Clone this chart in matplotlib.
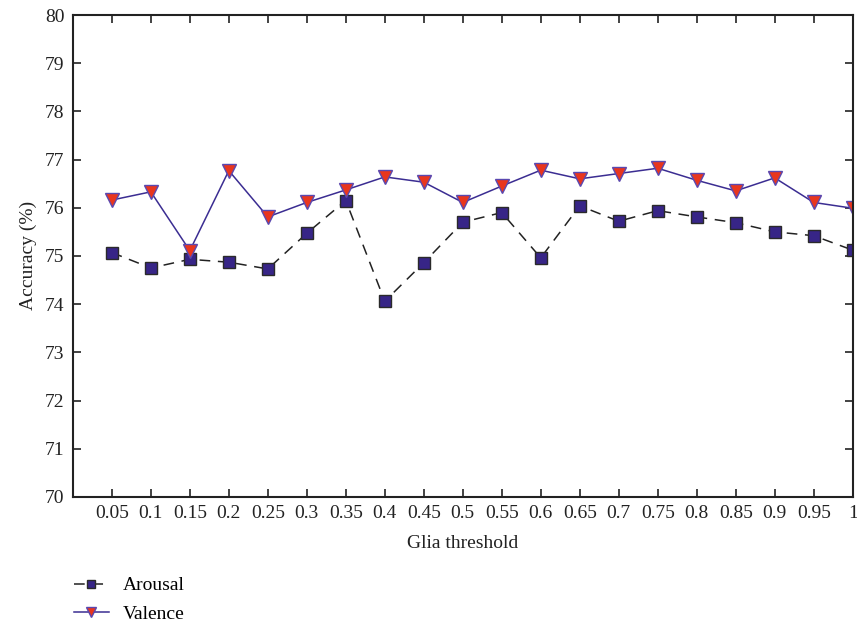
import matplotlib.pyplot as plt
import numpy as np

plt.rcParams['font.family'] = ['Liberation Serif', 'DejaVu Serif']

thresholds = [0.05, 0.1, 0.15, 0.2, 0.25, 0.3, 0.35, 0.4, 0.45, 0.5,
              0.55, 0.6, 0.65, 0.7, 0.75, 0.8, 0.85, 0.9, 0.95, 1]
tick_labels = ['0.05', '0.1', '0.15', '0.2', '0.25', '0.3', '0.35', '0.4', '0.45', '0.5',
               '0.55', '0.6', '0.65', '0.7', '0.75', '0.8', '0.85', '0.9', '0.95', '1']
arousal = [75.07, 74.75, 74.93, 74.87, 74.73, 75.47, 76.15, 74.06, 74.86, 75.70,
           75.90, 74.96, 76.04, 75.72, 75.94, 75.81, 75.69, 75.50, 75.42, 75.12]
valence = [76.16, 76.33, 75.11, 76.77, 75.81, 76.11, 76.37, 76.64, 76.53, 76.11,
           76.45, 76.78, 76.60, 76.71, 76.82, 76.57, 76.35, 76.62, 76.11, 75.99]

fig = plt.figure(figsize=(8.57, 6.25), dpi=100)
ax = fig.add_axes([0.085, 0.205, 0.91, 0.771])

ax.plot(thresholds, arousal, linestyle=(0, (7, 5)), color='#222222', linewidth=1.1,
        marker='s', markersize=8, markerfacecolor='#372587', markeredgecolor='#2a2a2a',
        markeredgewidth=1.0, label='Arousal')
ax.plot(thresholds, valence, linestyle='-', color='#3b2d92', linewidth=1.1,
        marker='v', markersize=9.5, markerfacecolor='#e8361e', markeredgecolor='#5a48b0',
        markeredgewidth=1.0, label='Valence')

ax.set_xlim(0, 1)
ax.set_ylim(70, 80)
ax.set_xticks(thresholds)
ax.set_xticklabels(tick_labels)
ax.set_yticks(np.arange(70, 81, 1))

ax.tick_params(direction='in', length=6, width=1.2, top=True, right=True,
               labelsize=14, colors='#222222', pad=6)
for spine in ax.spines.values():
    spine.set_linewidth(1.5)
    spine.set_color('#222222')

ax.set_xlabel('Glia threshold', fontsize=14, color='#222222', labelpad=9)
ax.set_ylabel('Accuracy (%)', fontsize=14, color='#222222', labelpad=6)

fig.legend(loc='upper left', bbox_to_anchor=(0.086, 0.077), frameon=False,
           fontsize=14, handlelength=1.8, handletextpad=0.7, labelspacing=0.55,
           markerscale=0.75, borderaxespad=0, borderpad=0)

fig.savefig('out.png', dpi=100)
